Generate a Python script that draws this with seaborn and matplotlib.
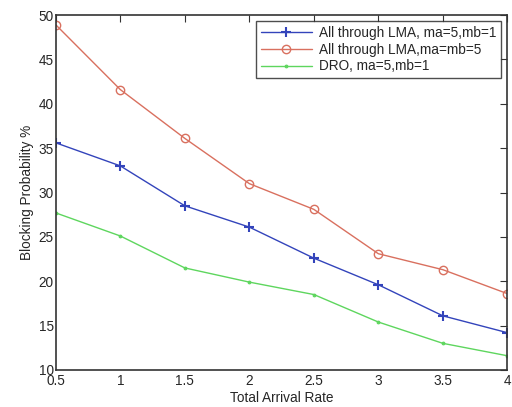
import numpy as np
import pandas as pd
import matplotlib
matplotlib.use('Agg')
import matplotlib.pyplot as plt
import seaborn as sns

arrival_rate = [0.5, 1.0, 1.5, 2.0, 2.5, 3.0, 3.5, 4.0]
lma_5_1 = [35.6, 33.0, 28.5, 26.1, 22.6, 19.6, 16.1, 14.2]
lma_5_5 = [48.9, 41.6, 36.1, 31.0, 28.1, 23.1, 21.3, 18.6]
dro_5_1 = [27.7, 25.1, 21.5, 19.9, 18.5, 15.4, 13.0, 11.6]

series_names = ['All through LMA, ma=5,mb=1',
                'All through LMA,ma=mb=5',
                'DRO, ma=5,mb=1']

df = pd.DataFrame({
    'rate': arrival_rate * 3,
    'blocking': lma_5_1 + lma_5_5 + dro_5_1,
    'series': sum([[n] * len(arrival_rate) for n in series_names], []),
})

sns.set_style('white')
plt.rcParams['font.family'] = ['Liberation Sans', 'DejaVu Sans']
fs = 9.8

fig = plt.figure(figsize=(5.12, 4.07), dpi=100)
ax = fig.add_axes([0.109, 0.091, 0.882, 0.872])

colors = ['#3344bb', '#d9705f', '#5ed65e']
styles = [dict(marker='+', markersize=7, markeredgewidth=1.5),
          dict(marker='o', markersize=6, markerfacecolor='none', markeredgewidth=1.0),
          dict(marker='.', markersize=4)]

for name, col, st in zip(series_names, colors, styles):
    sub = df[df['series'] == name]
    sns.lineplot(x='rate', y='blocking', data=sub, ax=ax, color=col,
                 label=name, linewidth=1.0, markeredgecolor=col, **st)

ax.set_xlim([0.5, 4])
ax.set_ylim([10, 50])
ax.set_xticks(arrival_rate)
ax.set_xticklabels(['0.5', '1', '1.5', '2', '2.5', '3', '3.5', '4'])
ax.set_yticks(range(10, 51, 5))
ax.tick_params(direction='in', length=5, top=True, right=True,
               labelsize=fs, color='#333333', pad=1.5)
ax.tick_params(axis='x', pad=3)
for s in ax.spines.values():
    s.set_color('#333333')
    s.set_linewidth(1.2)
ax.set_xlabel('Total Arrival Rate', fontsize=fs, labelpad=2)
ax.set_ylabel('Blocking Probability %', fontsize=fs, labelpad=3)

leg = ax.legend(loc='upper right', fontsize=fs, frameon=True, fancybox=False,
                borderaxespad=0.45, handlelength=3.8, handletextpad=0.5,
                borderpad=0.35, labelspacing=0.2)
leg.get_frame().set_edgecolor('#222222')
leg.get_frame().set_linewidth(1.0)

plt.savefig('out.png', dpi=100)
